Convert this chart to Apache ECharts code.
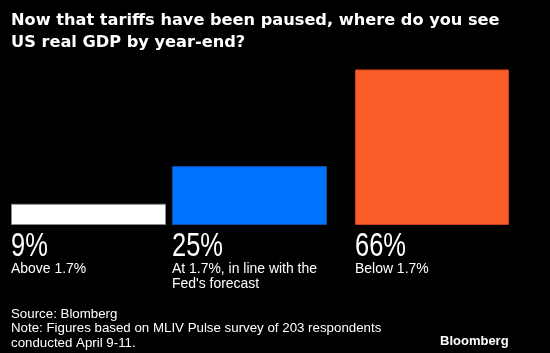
<!DOCTYPE html>
<html>
<head>
<meta charset="utf-8">
<script src="https://cdn.jsdelivr.net/npm/echarts@6/dist/echarts.min.js"></script>
<style>
html,body{margin:0;padding:0;background:#000;}
#chart{width:550px;height:353px;}
</style>
</head>
<body>
<div id="chart"></div>
<script>
// ---- data ----
const categories = ['Above 1.7%', 'At 1.7%, in line with the\nFed\'s forecast', 'Below 1.7%'];
const shares = [9, 25, 66];
const valueLabels = ['9%', '25%', '66%'];
const titleText = 'Now that tariffs have been paused, where do you see\nUS real GDP by year-end?';
const footerText = 'Source: Blomberg\nNote: Figures based on MLIV Pulse survey of 203 respondents\nconducted April 9-11.';
const brandText = 'Bloomberg';

// ---- styles ----
const barColors = ['#ffffff', '#0073ff', '#fc5c2a'];
const barBorders = ['#8a8a8a', '#0b4fa8', '#c8431c'];
const gridLefts = [11, 172, 355];
const gridWidths = [155, 155, 154];
const labelFont = '"Liberation Sans", Arial, sans-serif';

const chart = echarts.init(document.getElementById('chart'));
const grids = [], xAxes = [], yAxes = [], series = [];
shares.forEach((v, i) => {
  grids.push({left: gridLefts[i], width: gridWidths[i], top: 60, bottom: 128, containLabel: false});
  xAxes.push({type: 'category', gridIndex: i, data: [categories[i]], show: false});
  yAxes.push({type: 'value', gridIndex: i, min: 0, max: 70, show: false});
  series.push({
    type: 'bar', xAxisIndex: i, yAxisIndex: i,
    data: [v], barWidth: '100%',
    itemStyle: {color: barColors[i], borderColor: barBorders[i], borderWidth: 1},
    emphasis: {disabled: true},
    silent: true,
    animation: false
  });
  // label block under each bar, positioned from the axis scale
  series.push({
    type: 'custom', xAxisIndex: i, yAxisIndex: i,
    data: [[0, 0]],
    silent: true,
    animation: false,
    clip: false,
    renderItem: function (params, api) {
      const base = api.coord([0, 0]);
      const bw = api.size([1, 0])[0];
      const left = base[0] - bw / 2;
      const bottom = base[1];
      const children = [{
        type: 'text', x: left, y: bottom + 22, scaleX: 0.75,
        style: {text: valueLabels[i], fill: '#ffffff', font: '34px ' + labelFont,
                textAlign: 'left', textVerticalAlign: 'middle'}
      }];
      categories[i].split('\n').forEach((line, k) => {
        children.push({
          type: 'text', x: left, y: bottom + 44 + k * 15, scaleX: 0.93,
          style: {text: line, fill: '#ffffff', font: '15px ' + labelFont,
                  textAlign: 'left', textVerticalAlign: 'middle'}
        });
      });
      return {type: 'group', children: children};
    }
  });
});

chart.setOption({
  backgroundColor: '#000000',
  animation: false,
  title: [
    {text: titleText, left: 11, top: 10, padding: 0,
     textStyle: {color: '#ffffff', fontFamily: 'DejaVu Sans', fontWeight: 'bold', fontSize: 16.2, lineHeight: 22}},
    {text: footerText, left: 11, top: 307, padding: 0,
     textStyle: {color: '#ffffff', fontFamily: 'Liberation Sans', fontWeight: 'normal', fontSize: 13.3, lineHeight: 14.5}},
    {text: brandText, left: 440, top: 333, padding: 0,
     textStyle: {color: '#ffffff', fontFamily: 'Liberation Sans', fontWeight: 'bold', fontSize: 13, lineHeight: 16}}
  ],
  grid: grids,
  xAxis: xAxes,
  yAxis: yAxes,
  series: series
});
</script>
</body>
</html>
